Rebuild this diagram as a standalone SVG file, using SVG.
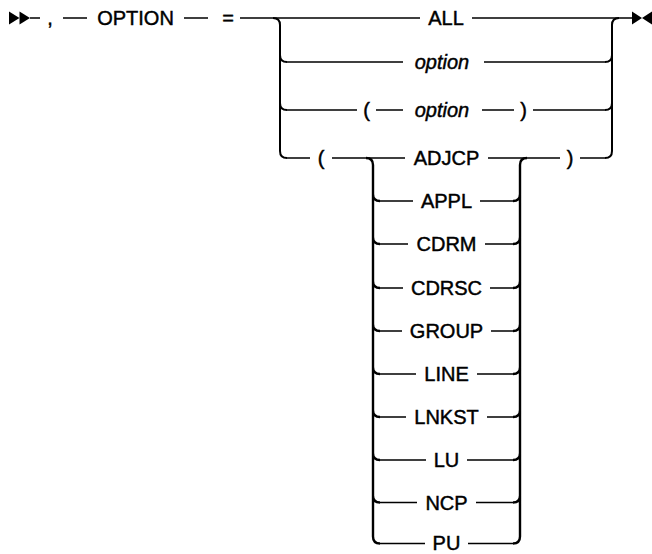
<svg xmlns="http://www.w3.org/2000/svg" width="652" height="554" viewBox="0 0 652 554">
<style>
text{font-family:"Liberation Sans",Arial,sans-serif;font-size:20px;fill:#000;stroke:#000;stroke-width:0.45;text-anchor:middle}
.it{font-style:italic}
.ln{fill:none;stroke:#000;stroke-width:1.5}
.bar{fill:none;stroke:#000;stroke-width:2}
.ibar{fill:none;stroke:#000;stroke-width:2.4}
.mk{fill:#000}
</style>
<rect width="652" height="554" fill="#fff"/>
<g id="connectors">
<polygon class="mk" points="9,11.5 9,24.5 19.5,18"/>
<polygon class="mk" points="19.5,11.5 19.5,24.5 30,18"/>
<polygon class="mk" points="632,11.5 632,24.5 642,18"/>
<polygon class="mk" points="652,11.5 652,24.5 642,18"/>
<path class="ln" d="M30,18H40 M63,18H87 M184,18H208 M240,18H420 M472,18H632"/>
<path class="bar" d="M273,18Q280,18 280,25V151Q280,158 287,158 M280,55Q280,62 287,62 M280,103Q280,110 287,110"/>
<path class="bar" d="M619,18Q612,18 612,25V151Q612,158 605,158 M605,62Q612,62 612,55 M605,110Q612,110 612,103"/>
<path class="ln" d="M287,62H403 M484,62H605"/>
<path class="ln" d="M287,110H357 M376,110H403 M482,110H514 M533,110H605"/>
<path class="ln" d="M287,158H310 M332,158H405 M488,158H560 M580,158H605"/>
<path class="ibar" d="M366,158Q373,158 373,165V536.5Q373,543.5 380,543.5 M373,194Q373,201 380,201 M373,237Q373,244 380,244 M373,281Q373,288 380,288 M373,324Q373,331 380,331 M373,367Q373,374 380,374 M373,410Q373,417 380,417 M373,453Q373,460 380,460 M373,495.5Q373,502.5 380,502.5"/>
<path class="ibar" d="M527,158Q520,158 520,165V536.5Q520,543.5 513,543.5 M513,201Q520,201 520,194 M513,244Q520,244 520,237 M513,288Q520,288 520,281 M513,331Q520,331 520,324 M513,374Q520,374 520,367 M513,417Q520,417 520,410 M513,460Q520,460 520,453 M513,502.5Q520,502.5 520,495.5"/>
<path class="ln" d="M380,201H413 M480,201H513 M380,244H408 M485,244H513 M380,288H403 M490,288H513 M380,331H402 M491,331H513 M380,374H416 M477,374H513 M380,417H406 M487,417H513 M380,460H426 M467,460H513 M380,502.5H417 M476,502.5H513 M380,543.5H425 M468,543.5H513"/>
</g>
<g id="n-comma"><text x="50" y="25">,</text></g>
<g id="n-option-kw"><text x="135.5" y="25">OPTION</text></g>
<g id="n-eq"><text x="228" y="25">=</text></g>
<g id="n-all"><text x="446" y="25">ALL</text></g>
<g id="n-option"><text class="it" x="442" y="69">option</text></g>
<g id="n-paren-option"><text x="366.5" y="117">(</text><text class="it" x="442" y="117">option</text><text x="523.5" y="117">)</text></g>
<g id="n-paren-list"><text x="321" y="165">(</text><text x="570" y="165">)</text></g>
<g id="n-adjcp"><text x="446.5" y="165">ADJCP</text></g>
<g id="n-appl"><text x="446.5" y="208">APPL</text></g>
<g id="n-cdrm"><text x="446.5" y="251">CDRM</text></g>
<g id="n-cdrsc"><text x="446.5" y="295">CDRSC</text></g>
<g id="n-group"><text x="446.5" y="338">GROUP</text></g>
<g id="n-line"><text x="446.5" y="381">LINE</text></g>
<g id="n-lnkst"><text x="446.5" y="424">LNKST</text></g>
<g id="n-lu"><text x="446.5" y="467">LU</text></g>
<g id="n-ncp"><text x="446.5" y="509.5">NCP</text></g>
<g id="n-pu"><text x="446.5" y="550">PU</text></g>
</svg>
